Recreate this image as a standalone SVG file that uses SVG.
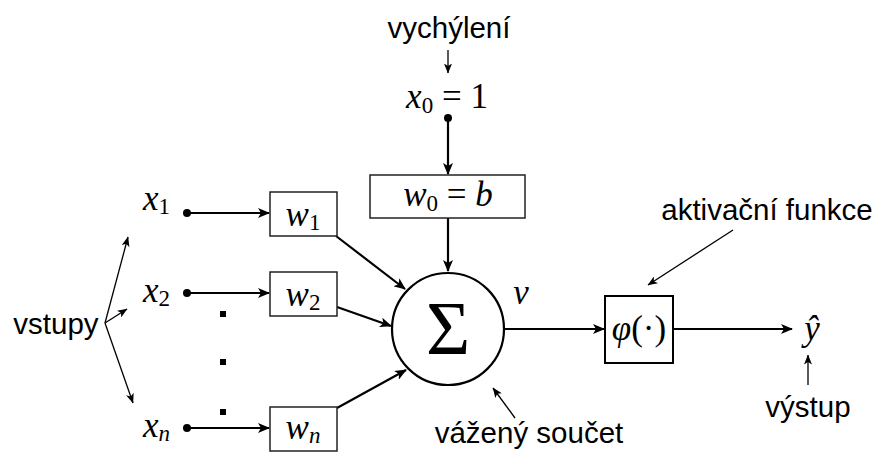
<svg xmlns="http://www.w3.org/2000/svg" width="874" height="456" viewBox="0 0 874 456">
<style>
.lbl{font-family:"Liberation Sans",Arial,sans-serif;font-size:29.5px;fill:#000}
.m{font-family:"Liberation Serif","Times New Roman",serif;font-size:35px;fill:#000}
.mi{font-style:italic}
.sub{font-size:23px}
.box{fill:#fff;stroke:#222;stroke-width:1.5}
.conn{stroke:#000;stroke-width:2.2;fill:none}
.ann{stroke:#000;stroke-width:1.3;fill:none}
</style>
<defs>
<marker id="ah" markerWidth="12" markerHeight="10" refX="11" refY="5" orient="auto" markerUnits="userSpaceOnUse">
<path d="M0,0 L12,5 L0,10 L3,5 z" fill="#000"/>
</marker>
<marker id="as" markerWidth="10" markerHeight="8" refX="9.5" refY="4" orient="auto" markerUnits="userSpaceOnUse">
<path d="M0,0 L10,4 L0,8 L2.5,4 z" fill="#000"/>
</marker>
</defs>
<g id="connectors">
<line class="conn" x1="448" y1="118" x2="448" y2="174" marker-end="url(#ah)"/>
<line class="conn" x1="448" y1="218" x2="448" y2="271" marker-end="url(#ah)"/>
<line class="conn" x1="187" y1="213" x2="269" y2="213" marker-end="url(#ah)"/>
<line class="conn" x1="187" y1="293" x2="269" y2="293" marker-end="url(#ah)"/>
<line class="conn" x1="187" y1="428" x2="269" y2="428" marker-end="url(#ah)"/>
<line class="conn" x1="336" y1="236" x2="405" y2="289" marker-end="url(#ah)"/>
<line class="conn" x1="337" y1="307" x2="391" y2="326" marker-end="url(#ah)"/>
<line class="conn" x1="337" y1="408" x2="406" y2="370" marker-end="url(#ah)"/>
<line class="conn" x1="504" y1="329" x2="604" y2="329" marker-end="url(#ah)"/>
<line class="conn" x1="673" y1="329" x2="792" y2="329" marker-end="url(#ah)"/>
<circle cx="448" cy="118" r="4" fill="#000"/>
<circle cx="187" cy="213" r="4" fill="#000"/>
<circle cx="187" cy="293" r="4" fill="#000"/>
<circle cx="187" cy="428" r="4" fill="#000"/>
<line class="ann" x1="448" y1="50" x2="448" y2="73" marker-end="url(#as)"/>
<line class="ann" x1="733" y1="230" x2="648" y2="285" marker-end="url(#as)"/>
<line class="ann" x1="515" y1="418" x2="493" y2="388" marker-end="url(#as)"/>
<line class="ann" x1="808" y1="385" x2="808" y2="355" marker-end="url(#as)"/>
<line class="ann" x1="105" y1="323" x2="128" y2="237" marker-end="url(#as)"/>
<line class="ann" x1="105" y1="323" x2="127" y2="309" marker-end="url(#as)"/>
<line class="ann" x1="105" y1="323" x2="133" y2="403" marker-end="url(#as)"/>
</g>
<g id="dots" fill="#000">
<rect x="220" y="311" width="6" height="6"/>
<rect x="220" y="359" width="6" height="6"/>
<rect x="220" y="409" width="6" height="6"/>
</g>
<g id="bias-label"><text class="lbl" x="449" y="38" text-anchor="middle">vychýlení</text></g>
<g id="x0"><text class="m" x="447" y="108" text-anchor="middle"><tspan class="mi">x</tspan><tspan class="sub" dy="5">0</tspan><tspan dy="-5"> = 1</tspan></text></g>
<g id="w0"><rect class="box" x="370" y="175" width="155" height="43"/><text class="m" x="448" y="206" text-anchor="middle"><tspan class="mi">w</tspan><tspan class="sub" dy="5">0</tspan><tspan dy="-5"> = </tspan><tspan class="mi">b</tspan></text></g>
<g id="x1"><text class="m" x="143" y="210"><tspan class="mi">x</tspan><tspan class="sub" dy="4">1</tspan></text></g>
<g id="x2"><text class="m" x="143" y="302"><tspan class="mi">x</tspan><tspan class="sub" dy="4">2</tspan></text></g>
<g id="xn"><text class="m" x="143" y="437"><tspan class="mi">x</tspan><tspan class="sub mi" dy="4">n</tspan></text></g>
<g id="w1"><rect class="box" x="270" y="192" width="67" height="44"/><text class="m" x="303" y="226" text-anchor="middle"><tspan class="mi">w</tspan><tspan class="sub" dy="4">1</tspan></text></g>
<g id="w2"><rect class="box" x="270" y="272" width="67" height="44"/><text class="m" x="303" y="306" text-anchor="middle"><tspan class="mi">w</tspan><tspan class="sub" dy="4">2</tspan></text></g>
<g id="wn"><rect class="box" x="270" y="407" width="67" height="44"/><text class="m" x="303" y="439" text-anchor="middle"><tspan class="mi">w</tspan><tspan class="sub mi" dy="4">n</tspan></text></g>
<g id="sum"><circle cx="448" cy="329" r="56" fill="#fff" stroke="#000" stroke-width="2.2"/><text class="m" x="448" y="354" text-anchor="middle" style="font-size:76px">Σ</text></g>
<g id="v"><text class="m mi" x="521" y="304" text-anchor="middle">v</text></g>
<g id="phi"><rect class="box" x="605" y="296" width="68" height="67" style="stroke:#000;stroke-width:2"/><text class="m" x="639" y="340" text-anchor="middle"><tspan class="mi">φ</tspan>(·)</text></g>
<g id="yhat"><text class="m mi" x="812" y="340" text-anchor="middle">ŷ</text></g>
<g id="act-label"><text class="lbl" x="767" y="220" text-anchor="middle">aktivační funkce</text></g>
<g id="out-label"><text class="lbl" x="808" y="417" text-anchor="middle">výstup</text></g>
<g id="sum-label"><text class="lbl" x="529" y="443" text-anchor="middle">vážený součet</text></g>
<g id="in-label"><text class="lbl" x="56" y="334" text-anchor="middle">vstupy</text></g>
</svg>
